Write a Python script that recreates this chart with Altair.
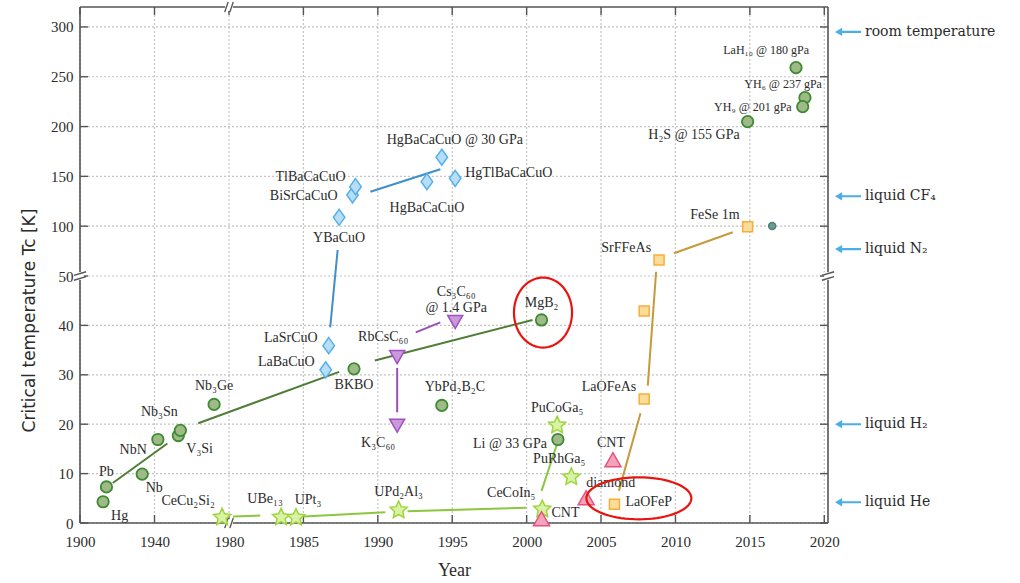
import math
import altair as alt
import pandas as pd

W, H = 748, 516

# ---------------- data ----------------
# conventional (phonon-mediated) superconductors
bcs_labels = ["Hg", "Pb", "Nb", "NbN", "V₃Si", "Nb₃Sn", "Nb₃Ge", "BKBO", "YbPd₂B₂C",
              "MgB₂", "Li @ 33 GPa", "H₂S @ 155 GPa", "LaH₁₀ @ 180 gPa",
              "YH₆ @ 237 gPa", "YH₉ @ 201 gPa"]
bcs_year = [1912.4, 1914.2, 1933.4, 1941.8, 1952.8, 1953.9, 1972.0, 1988.4, 1994.3,
            2001.0, 2002.1, 2014.85, 2018.1, 2018.7, 2018.55]
bcs_tc = [4.3, 7.3, 9.9, 16.9, 17.7, 18.75, 24.0, 31.2, 23.8,
          41.1, 16.9, 204.9, 259.1, 229.0, 220.0]

# cuprates
cuprate_labels = ["LaBaCuO", "LaSrCuO", "YBaCuO", "BiSrCaCuO", "TlBaCaCuO",
                  "HgBaCaCuO", "HgBaCaCuO @ 30 GPa", "HgTlBaCaCuO"]
cuprate_year = [1986.5, 1986.7, 1987.4, 1988.3, 1988.5, 1993.3, 1994.3, 1995.2]
cuprate_tc = [31.0, 35.9, 108.9, 131.3, 139.7, 144.7, 169.2, 148.0]

# fullerides
fulleride_labels = ["RbCsC₆₀", "K₃C₆₀", "Cs₃C₆₀\n@ 1.4 GPa"]
fulleride_year = [1991.3, 1991.3, 1995.2]
fulleride_tc = [33.7, 19.8, 40.8]

# heavy fermions
hf_labels = ["CeCu₂Si₂", "UBe₁₃", "UPt₃", "UPd₂Al₃", "CeCoIn₅", "PuRhGa₅", "PuCoGa₅"]
hf_year = [1976.3, 1983.5, 1984.5, 1991.4, 2001.05, 2003.0, 2002.05]
hf_tc = [1.15, 1.15, 1.1, 2.6, 2.8, 9.3, 19.8]

# carbon allotropes
carbon_labels = ["CNT", "diamond", "CNT"]
carbon_year = [2001.0, 2004.0, 2005.8]
carbon_tc = [0.75, 5.0, 12.7]

# iron-based
iron_labels = ["LaOFeP", "LaOFeAs", "", "SrFFeAs", "FeSe   1m"]
iron_year = [2005.9, 2007.9, 2007.9, 2008.9, 2014.85]
iron_tc = [3.8, 25.1, 42.9, 66.1, 99.5]

# single extra point
extra_year = [2016.5]
extra_tc = [100.3]

# trend lines (start year, start Tc, end year, end Tc)
bcs_seg = ([1917.6, 1963.5, 1989.8], [8.1, 20.2, 32.9],
           [1946.9, 1987.4, 2000.4], [16.1, 30.6, 41.1])
cuprate_seg = ([1986.8, 1989.5], [39.6, 134.6], [1987.3, 1994.2], [76.1, 157.1])
fulleride_seg = ([1991.3, 1992.55], [31.4, 38.6], [1991.3, 1994.2], [22.4, 40.6])
hf_seg = ([1980.27, 1985.0, 1992.0, 2001.0], [1.3, 1.3, 2.4, 6.5],
          [1982.1, 1990.5, 1999.97, 2002.2], [1.5, 2.2, 3.1, 17.4])
iron_seg = ([2006.2, 2008.14, 2009.9], [6.5, 27.8, 72.8],
            [2007.65, 2008.7, 2013.85], [22.2, 54.3, 93.9])

# coolant reference temperatures
ref_labels = ["room temperature", "liquid CF₄", "liquid N₂", "liquid  H₂", "liquid  He"]
ref_tc = [295, 130, 77, 20, 4.2]

# highlighted discoveries (ellipse centres)
hl_year = [2001.1, 2007.54]
hl_tc = [42.6, 5.0]

# axis ticks
x_ticks = [1900, 1940, 1980, 1985, 1990, 1995, 2000, 2005, 2010, 2015, 2020]
y_ticks = [0, 10, 20, 30, 40, 50, 100, 150, 200, 250, 300]

# ---------------- layout / styles ----------------
# label placement: (dx, dy, align)
bcs_lab_pos = [(8, 14, "left"), (0, -15, "center"), (12, 14, "center"), (-11, 10, "right"),
               (8, 13, "left"), (-21, -18, "center"), (0, -18, "center"), (0, 16, "center"),
               (13, -18, "center"), (0, -17, "center"), (-11, 4, "right"), (-8, 13, "right"),
               (13, -18, "right"), (17, -14, "right"), (-11, 0, "right")]
cuprate_lab_pos = [(-11, -8, "right"), (-11, -8, "right"), (0, 21, "center"), (-15, 1, "right"),
                   (-10, -10, "right"), (0, 26, "center"), (13, -17, "center"), (10, -5, "left")]
fulleride_lab_pos = [(-14, -20, "center"), (-19, 18, "center"), (1, -29, "center")]
hf_lab_pos = [(-34, -16, "center"), (-16, -18, "center"), (12, -18, "center"), (0, -18, "center"),
              (-31, -16, "center"), (-12, -18, "center"), (0, -17, "center")]
carbon_lab_pos = [(10, -6, "left"), (0, -15, "left"), (-2, -17, "center")]
iron_lab_pos = [(11, -2, "left"), (-8, -12, "right"), (0, 0, "left"), (-8, -12, "right"),
                (-8, -12, "right")]
small_label_font = {"LaH₁₀ @ 180 gPa", "YH₆ @ 237 gPa", "YH₉ @ 201 gPa"}


def star_path(n=5, r_in=0.48):
    pts = []
    for i in range(2 * n):
        r = 1.0 if i % 2 == 0 else r_in
        a = -math.pi / 2 + i * math.pi / n
        pts.append((r * math.cos(a), r * math.sin(a)))
    return "M" + "L".join(f"{x:.3f},{y:.3f}" for x, y in pts) + "Z"


def ellipse_path(rx, ry, n=72):
    pts = [(rx * math.cos(2 * math.pi * i / n), ry * math.sin(2 * math.pi * i / n)) for i in range(n)]
    return "M" + "L".join(f"{x:.3f},{y:.3f}" for x, y in pts) + "Z"


TALL_DIAMOND = "M0,-1L0.72,0L0,1L-0.72,0Z"
TRI_DOWN = "M-1,-0.8L1,-0.8L0,0.95Z"
TRI_UP = "M-1,0.8L1,0.8L0,-0.95Z"
ARROW_LEFT = "M-1,0L-0.45,-0.32L-0.45,-0.08L1,-0.08L1,0.08L-0.45,0.08L-0.45,0.32Z"
BREAK_V = "M-0.75,0.9L-0.15,-0.9M0.15,0.9L0.75,-0.9"
BREAK_H = "M-1,-0.1L1,-0.7M-1,0.7L1,0.1"

FRAME = "#555555"
TEXT = "#2b2b2b"
GRID = "#c4c4c4"
LABEL_FONT = "Liberation Serif"

XS = alt.Scale(domain=[1900, 1980, 2020.25], range=[0, 149, W], nice=False, zero=False)
YS = alt.Scale(domain=[0, 50, 320], range=[H, 269, 0], nice=False, zero=False)

X_AXIS = alt.Axis(values=x_ticks, format="d", title="Year", grid=False, domain=False,
                  ticks=False, tickSize=0,
                  labelFont=LABEL_FONT, labelFontSize=15, labelColor=TEXT, labelPadding=11,
                  labelFlush=False, labelOverlap=False,
                  titleFont=LABEL_FONT, titleFontSize=18, titleFontWeight="normal",
                  titleColor=TEXT, titlePadding=12)
Y_AXIS = alt.Axis(values=y_ticks, format="d", title="Critical temperature Tc [K]", grid=False,
                  domain=False, ticks=False, tickSize=0, labelFont=LABEL_FONT, labelFontSize=15,
                  labelColor=TEXT, labelPadding=7, labelOverlap=False, labelFlush=False,
                  titleFont="DejaVu Sans", titleFontSize=17, titleFontWeight="normal",
                  titleColor=TEXT, titlePadding=12, titleY=313)


def xenc():
    return alt.X("year:Q", scale=XS, axis=X_AXIS)


def yenc():
    return alt.Y("tc:Q", scale=YS, axis=Y_AXIS)


layers = []
xt = pd.DataFrame({"year": x_ticks})
yt = pd.DataFrame({"tc": y_ticks})

# dotted grid
layers.append(alt.Chart(xt).mark_rule(color=GRID, strokeWidth=1.2, strokeDash=[2, 2]).encode(
    x=xenc(), y=alt.value(0), y2=alt.value(H)))
layers.append(alt.Chart(yt).mark_rule(color=GRID, strokeWidth=1.2, strokeDash=[2, 2]).encode(
    y=yenc(), x=alt.value(0), x2=alt.value(W)))

# frame
one = pd.DataFrame({"k": [0]})
for enc in [dict(x=alt.value(0), x2=alt.value(W), y=alt.value(0)),
            dict(x=alt.value(0), x2=alt.value(W), y=alt.value(H)),
            dict(x=alt.value(0), y=alt.value(0), y2=alt.value(H)),
            dict(x=alt.value(W), y=alt.value(0), y2=alt.value(H))]:
    layers.append(alt.Chart(one).mark_rule(color=FRAME, strokeWidth=1.6).encode(**enc))

# inward ticks on all four sides
tick_len = 8
layers.append(alt.Chart(xt).mark_rule(color=FRAME, strokeWidth=1.4).encode(
    x=xenc(), y=alt.value(0), y2=alt.value(tick_len)))
layers.append(alt.Chart(xt).mark_rule(color=FRAME, strokeWidth=1.4).encode(
    x=xenc(), y=alt.value(H), y2=alt.value(H - tick_len)))
layers.append(alt.Chart(yt).mark_rule(color=FRAME, strokeWidth=1.4).encode(
    y=yenc(), x=alt.value(0), x2=alt.value(tick_len)))
layers.append(alt.Chart(yt).mark_rule(color=FRAME, strokeWidth=1.4).encode(
    y=yenc(), x=alt.value(W), x2=alt.value(W - tick_len)))

# axis breaks: white gap + slanted double stroke
brk_v = pd.DataFrame({"year": [1980, 1980], "tc": [320, 0]})
brk_h = pd.DataFrame({"year": [1900, 2020.25], "tc": [50, 50]})
layers.append(alt.Chart(brk_v).mark_point(shape="square", filled=True, color="white",
                                          size=60, opacity=1).encode(x=xenc(), y=yenc()))
layers.append(alt.Chart(brk_h).mark_point(shape="square", filled=True, color="white",
                                          size=60, opacity=1).encode(x=xenc(), y=yenc()))
layers.append(alt.Chart(brk_v).mark_point(shape=BREAK_V, filled=False, color=FRAME,
                                          strokeWidth=1.4, size=130, opacity=1).encode(x=xenc(), y=yenc()))
layers.append(alt.Chart(brk_h).mark_point(shape=BREAK_H, filled=False, color=FRAME,
                                          strokeWidth=1.4, size=150, opacity=1).encode(x=xenc(), y=yenc()))


# trend lines
def seg_layer(seg, color):
    df = pd.DataFrame({"year": seg[0], "tc": seg[1], "year2": seg[2], "tc2": seg[3]})
    return alt.Chart(df).mark_rule(color=color, strokeWidth=2).encode(
        x=xenc(), y=yenc(), x2="year2:Q", y2="tc2:Q")


layers.append(seg_layer(bcs_seg, "#4f7d36"))
layers.append(seg_layer(cuprate_seg, "#3f8fc8"))
layers.append(seg_layer(fulleride_seg, "#9b4fb5"))
layers.append(seg_layer(hf_seg, "#8dc63f"))
layers.append(seg_layer(iron_seg, "#c49a3c"))


# markers
def point_layer(years, tcs, shape, size, fill, stroke, sw=1.5):
    df = pd.DataFrame({"year": years, "tc": tcs})
    return alt.Chart(df).mark_point(shape=shape, size=size, filled=True, fill=fill,
                                    stroke=stroke, strokeWidth=sw, opacity=1).encode(
        x=xenc(), y=yenc())


layers.append(point_layer(bcs_year, bcs_tc, "circle", 130, "#9fba88", "#3d8b31", 1.8))
layers.append(point_layer(cuprate_year, cuprate_tc, TALL_DIAMOND, 256, "#b8ddf6", "#55b0ea"))
layers.append(point_layer(fulleride_year, fulleride_tc, TRI_DOWN, 225, "#c99ad9", "#a24fc2"))
layers.append(point_layer(hf_year, hf_tc, star_path(), 324, "#d9f2a6", "#9dd63c"))
layers.append(point_layer(carbon_year, carbon_tc, TRI_UP, 256, "#f5a3bb", "#e5507c"))
layers.append(point_layer(iron_year, iron_tc, "square", 100, "#fddc9a", "#f5ae3c"))
layers.append(point_layer(extra_year, extra_tc, "circle", 49, "#6c9a94", "#4e7f78"))


# text labels next to markers
def label_layers(labels, years, tcs, positions):
    out = []
    for lab, yr, tc, (dx, dy, align) in zip(labels, years, tcs, positions):
        if not lab:
            continue
        fs = 12 if lab in small_label_font else 14
        df = pd.DataFrame({"year": [yr], "tc": [tc], "label": [lab]})
        out.append(alt.Chart(df).mark_text(dx=dx, dy=dy, align=align, baseline="middle",
                                           font=LABEL_FONT, fontSize=fs, color=TEXT,
                                           lineBreak="\n", lineHeight=16).encode(
            x=xenc(), y=yenc(), text="label:N"))
    return out


layers += label_layers(bcs_labels, bcs_year, bcs_tc, bcs_lab_pos)
layers += label_layers(cuprate_labels, cuprate_year, cuprate_tc, cuprate_lab_pos)
layers += label_layers(fulleride_labels, fulleride_year, fulleride_tc, fulleride_lab_pos)
layers += label_layers(hf_labels, hf_year, hf_tc, hf_lab_pos)
layers += label_layers(carbon_labels, carbon_year, carbon_tc, carbon_lab_pos)
layers += label_layers(iron_labels, iron_year, iron_tc, iron_lab_pos)

# red ellipses around highlighted discoveries
hl_shapes = [(ellipse_path(0.83, 1.0), 70 ** 2), (ellipse_path(1.0, 0.4), 105 ** 2)]
for yr, tc, (shape, size) in zip(hl_year, hl_tc, hl_shapes):
    df = pd.DataFrame({"year": [yr], "tc": [tc]})
    layers.append(alt.Chart(df).mark_point(shape=shape, size=size, filled=False,
                                           color="#e8150f", strokeWidth=2.2, opacity=1).encode(
        x=xenc(), y=yenc()))

# coolant reference arrows on the right
refs = pd.DataFrame({"tc": ref_tc, "label": ref_labels})
layers.append(alt.Chart(refs).mark_point(shape=ARROW_LEFT, size=26 ** 2, filled=True,
                                         color="#4aaee8", opacity=1).encode(
    y=yenc(), x=alt.value(W + 20)))
layers.append(alt.Chart(refs).mark_text(align="left", baseline="middle", font="DejaVu Serif",
                                        fontSize=14, color=TEXT).encode(
    y=yenc(), x=alt.value(W + 37), text="label:N"))

chart = alt.layer(*layers).properties(
    width=W, height=H,
    autosize=alt.AutoSizeParams(type="none"),
    padding={"left": 80, "top": 7, "right": 1020 - 80 - W, "bottom": 583 - 7 - H},
    background="white",
).configure_view(stroke=None)

chart.save("out.html", embed_options={"renderer": "svg", "actions": False})
